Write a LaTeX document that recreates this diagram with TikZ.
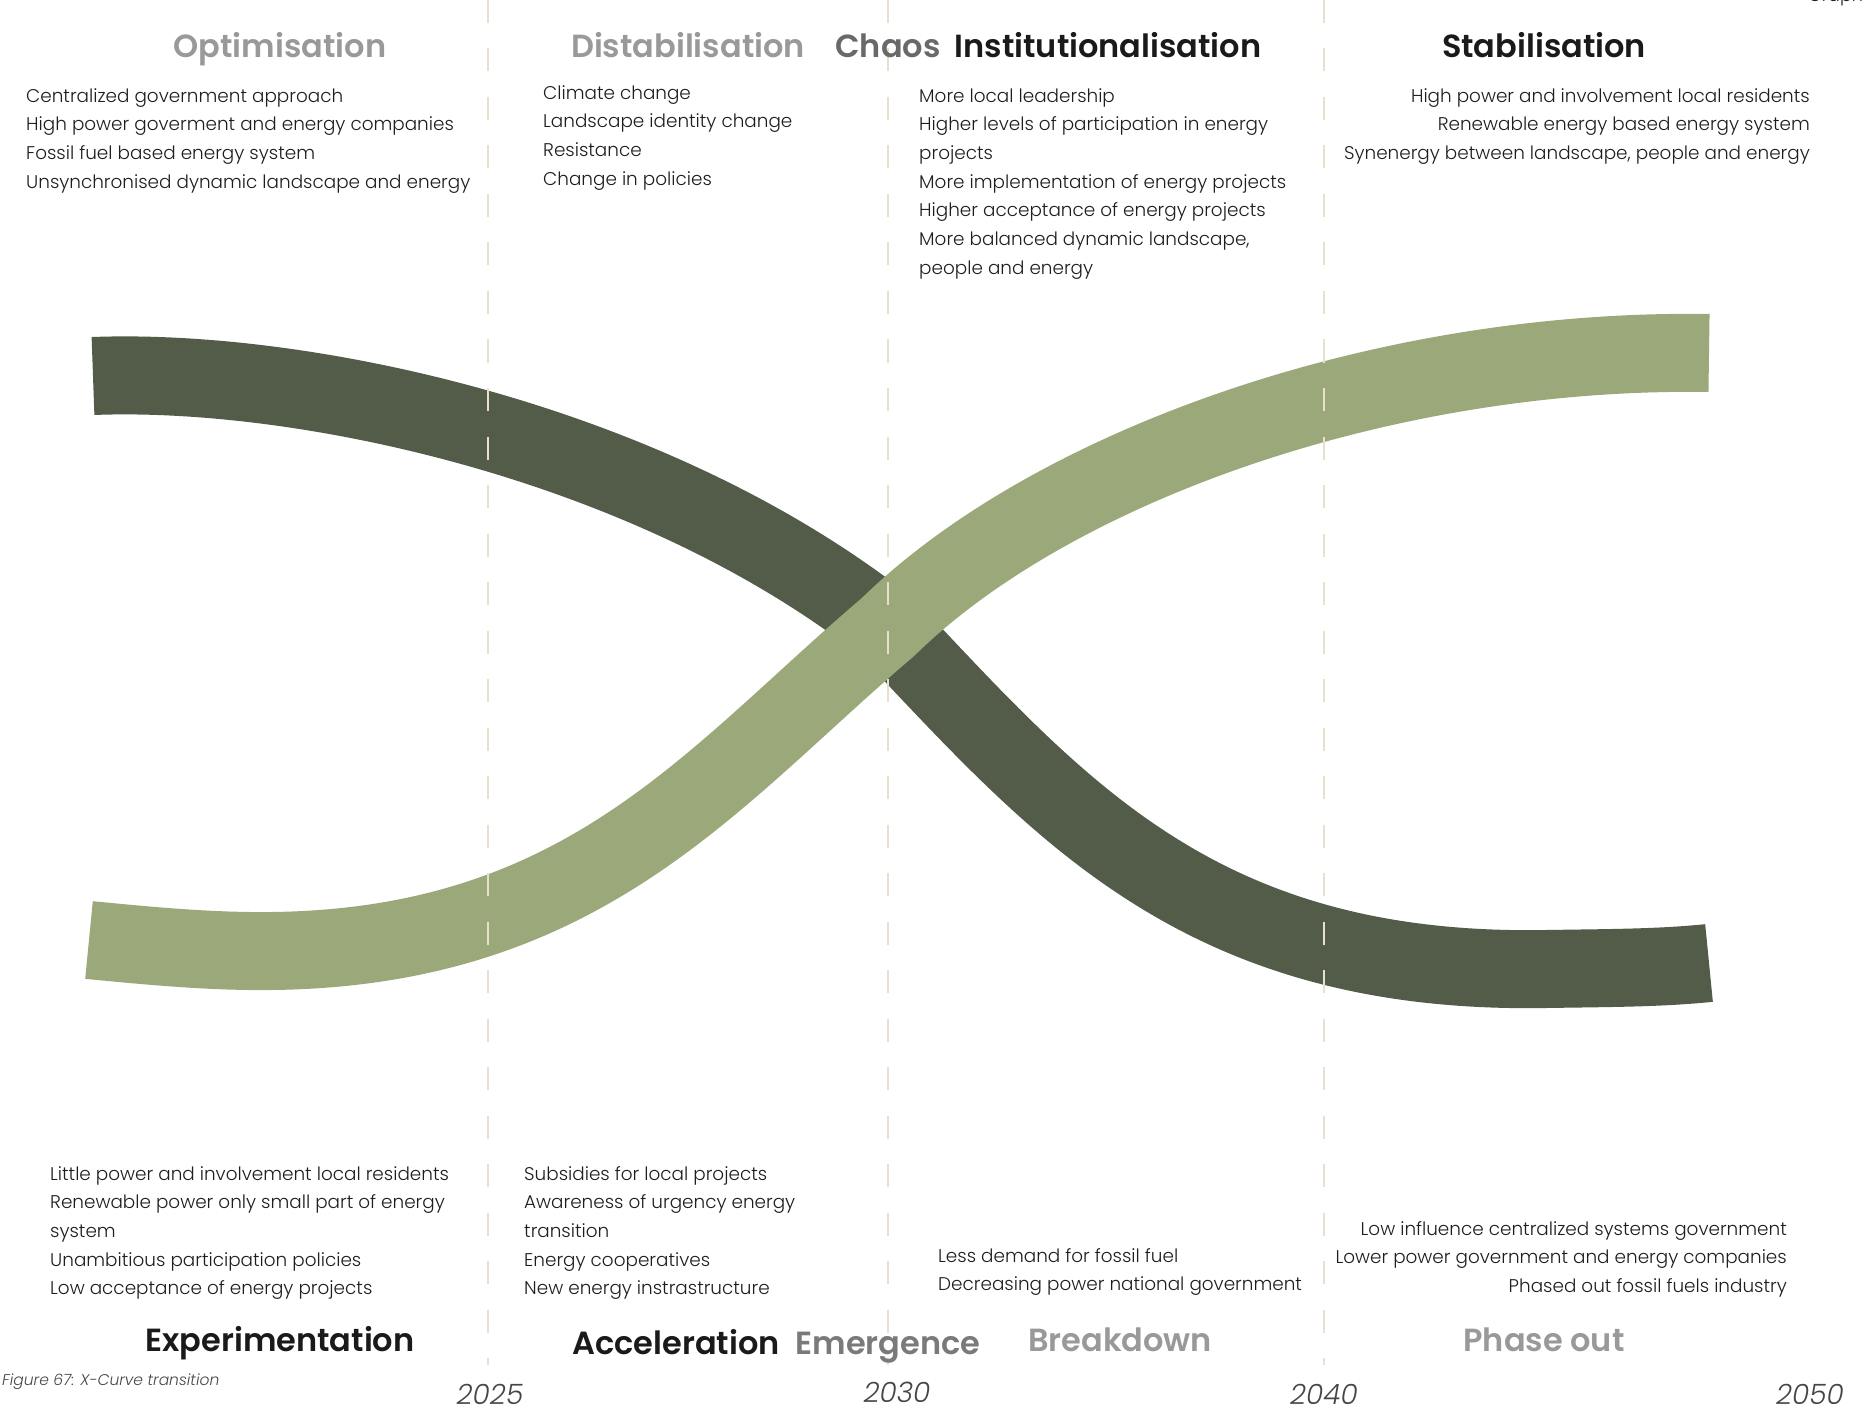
\documentclass[tikz,border=0pt]{standalone}
\usepackage{fontspec}
\setmainfont{Poppins}[UprightFont=* Light, BoldFont=* SemiBold, ItalicFont=* Light Italic]
\definecolor{banddark}{RGB}{82,92,72}
\definecolor{bandlight}{RGB}{155,168,122}
\definecolor{dashbeige}{RGB}{230,224,205}
\definecolor{headgrey}{RGB}{153,153,153}
\definecolor{chaosgrey}{RGB}{105,105,105}
\definecolor{emergrey}{RGB}{122,122,122}
\definecolor{headblack}{RGB}{26,26,26}
\definecolor{textblack}{RGB}{30,30,30}
\definecolor{yeargrey}{RGB}{70,70,70}

\begin{document}
\begin{tikzpicture}[x=1pt, y=-1pt,
        stagehead/.style={font=\fontsize{32}{38}\selectfont\bfseries, anchor=base, inner sep=0pt},
        stagetext/.style={font=\fontsize{18.4}{28.7}\selectfont, align=left, anchor=north west, inner sep=0pt, text=textblack},
        stagetextr/.style={stagetext, align=right, anchor=north east},
        yearlbl/.style={font=\fontsize{28}{32}\selectfont\itshape, anchor=base, inner sep=0pt, text=yeargrey},
        band/.style={line width=78pt, line cap=butt},
        divider/.style={dashbeige, line width=2pt, dash pattern=on 23pt off 25.5pt}]

        \useasboundingbox (0,0) rectangle (1865,1412);
        \fill[white] (0,0) rectangle (1865,1412);

        % the two transition curves
        \draw[band, banddark] (93,376) .. controls (300,368) and (650,440) .. (888,628)
            .. controls (1060,810) and (1200,975) .. (1546,969)
            .. controls (1610,968) and (1660,968) .. (1709,963);
        \draw[band, bandlight] (89,940) .. controls (150,946) and (200,950.4) .. (250,951)
            .. controls (580,955) and (708,780) .. (888,627)
            .. controls (1050,468) and (1380,348) .. (1709,353);

        % year dividers
        \foreach \xx in {488,888,1324}
            \draw[divider] (\xx,0) -- (\xx,1365);

        \node[stagehead, text=headgrey] (optim) at (280,58) {Optimisation};
        \node[stagehead, text=headgrey] (distab) at (688,58) {Distabilisation};
        \node[stagehead, text=chaosgrey] (chaos) at (888,58) {Chaos};
        \node[stagehead, text=headblack] (instit) at (1108,58) {Institutionalisation};
        \node[stagehead, text=headblack] (stabil) at (1544,58) {Stabilisation};

        \node[stagehead, text=headblack] (experim) at (280,1351) {Experimentation};
        \node[stagehead, text=headblack] (acceler) at (676,1354) {Acceleration};
        \node[stagehead, text=emergrey] (emerg) at (888,1354) {Emergence};
        \node[stagehead, text=headgrey] (breakd) at (1120,1351) {Breakdown};
        \node[stagehead, text=headgrey] (phaseout) at (1544,1351) {Phase out};

        \node[stagetext] (optimtxt) at (26,88) {Centralized government approach\\High power goverment and energy companies\\Fossil fuel based energy system\\Unsynchronised dynamic landscape and energy};
        \node[stagetext] (distabtxt) at (543,85) {Climate change\\Landscape identity change\\Resistance\\Change in policies};
        \node[stagetext] (instittxt) at (919,88) {More local leadership\\Higher levels of participation in energy\\projects\\More implementation of energy projects\\Higher acceptance of energy projects\\More balanced dynamic landscape,\\people and energy};
        \node[stagetextr] (stabiltxt) at (1810,88) {High power and involvement local residents\\Renewable energy based energy system\\Synenergy between landscape, people and energy};

        \node[stagetext] (experimtxt) at (50,1166) {Little power and involvement local residents\\Renewable power only small part of energy\\system\\Unambitious participation policies\\Low acceptance of energy projects};
        \node[stagetext] (accelertxt) at (524,1166) {Subsidies for local projects\\Awareness of urgency energy\\transition\\Energy cooperatives\\New energy instrastructure};
        \node[stagetext] (breakdtxt) at (938,1248) {Less demand for fossil fuel\\Decreasing power national government};
        \node[stagetextr] (phaseouttxt) at (1787,1221) {Low influence centralized systems government\\Lower power government and energy companies\\Phased out fossil fuels industry};

        \node[yearlbl] (y2025) at (490,1404) {2025};
        \node[yearlbl] (y2030) at (897,1402) {2030};
        \node[yearlbl] (y2040) at (1324,1404) {2040};
        \node[yearlbl] (y2050) at (1810,1404) {2050};

        \node[anchor=base west, inner sep=0pt, font=\fontsize{15.5}{18}\selectfont\itshape, text=yeargrey] (caption) at (2,1385) {Figure 67: X-Curve transition};
        \node[anchor=base west, inner sep=0pt, font=\fontsize{17.5}{20}\selectfont, text=textblack] (cutlabel) at (1808,2) {Graph};

    \end{tikzpicture}
\end{document}
